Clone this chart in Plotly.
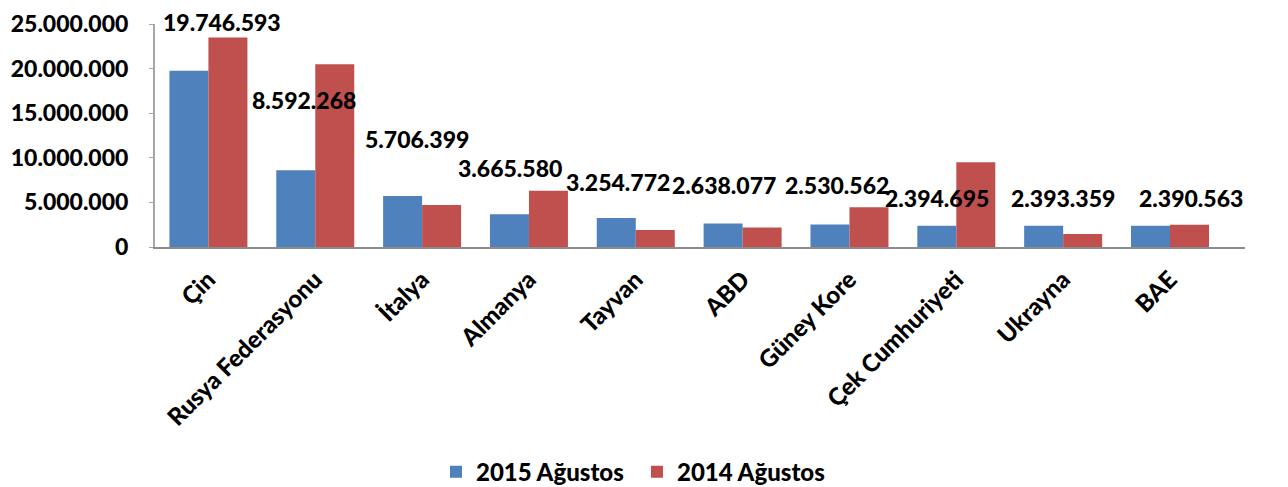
import plotly.graph_objects as go

categories = ["Çin", "Rusya Federasyonu", "İtalya", "Almanya", "Tayvan", "ABD",
              "Güney Kore", "Çek Cumhuriyeti", "Ukrayna", "BAE"]
values_2015 = [19746593, 8592268, 5706399, 3665580, 3254772, 2638077,
               2530562, 2394695, 2393359, 2390563]
values_2014 = [23500000, 20500000, 4700000, 6300000, 1900000, 2200000,
               4450000, 9500000, 1450000, 2500000]
series_names = ["2015 Ağustos", "2014 Ağustos"]
tick_vals = [0, 5000000, 10000000, 15000000, 20000000, 25000000]
tick_text = ["0", "5.000.000", "10.000.000", "15.000.000", "20.000.000", "25.000.000"]
y_max = 25000000

# label placement (layout): label heights as fraction of plot height, pixel shifts
label_frac = [1.01, 0.66, 0.484, 0.356, 0.29, 0.28, 0.278, 0.22, 0.22, 0.22]
label_xshift = [14, -11, -5, -19, -18, -19, -12, -19, 0, 21]

FONT = "Lato"
BLUE = "#4F81BD"
RED = "#C0504D"


def fmt(v):
    return f"{v:,}".replace(",", ".")


fig = go.Figure()
fig.add_trace(go.Bar(x=categories, y=values_2015, name=series_names[0],
                     marker=dict(color=BLUE, line=dict(width=0))))
fig.add_trace(go.Bar(x=categories, y=values_2014, name=series_names[1],
                     marker=dict(color=RED, line=dict(width=0))))

for c, v, lf, xs in zip(categories, values_2015, label_frac, label_xshift):
    fig.add_annotation(x=c, xref="x", y=lf, yref="paper", text=fmt(v),
                       showarrow=False, xshift=xs,
                       font=dict(family=FONT, size=23, color="black", weight=900),
                       xanchor="center", yanchor="middle")

# page body has an 8px margin, so the figure is drawn 8px in from the window edge
fig.update_layout(
    width=1280, height=479,
    margin=dict(l=147, r=43, t=16, b=239.5, autoexpand=False),
    paper_bgcolor="white", plot_bgcolor="white",
    barmode="group", bargap=0.27, bargroupgap=0,
    font=dict(family=FONT, color="black"),
    showlegend=True,
    legend=dict(orientation="h", x=0.4914, xanchor="center", xref="container",
                y=0.031, yref="container", yanchor="middle",
                entrywidth=156, entrywidthmode="pixels",
                font=dict(family=FONT, size=24, color="black", weight=900),
                traceorder="normal"),
    xaxis=dict(tickangle=-45, showline=True, linecolor="#8c8c8c", linewidth=2,
               ticks="", ticklabelstandoff=7,
               tickfont=dict(family=FONT, size=24, color="black", weight=900),
               showgrid=False),
    yaxis=dict(range=[0, y_max], tickvals=tick_vals, ticktext=tick_text,
               showline=True, linecolor="#a6a6a6", linewidth=2, showgrid=False,
               ticks="outside", ticklen=4, tickcolor="#a6a6a6", zeroline=False,
               ticklabelstandoff=16,
               tickfont=dict(family=FONT, size=23, color="black", weight=900)),
)

fig.write_html("out.html")
